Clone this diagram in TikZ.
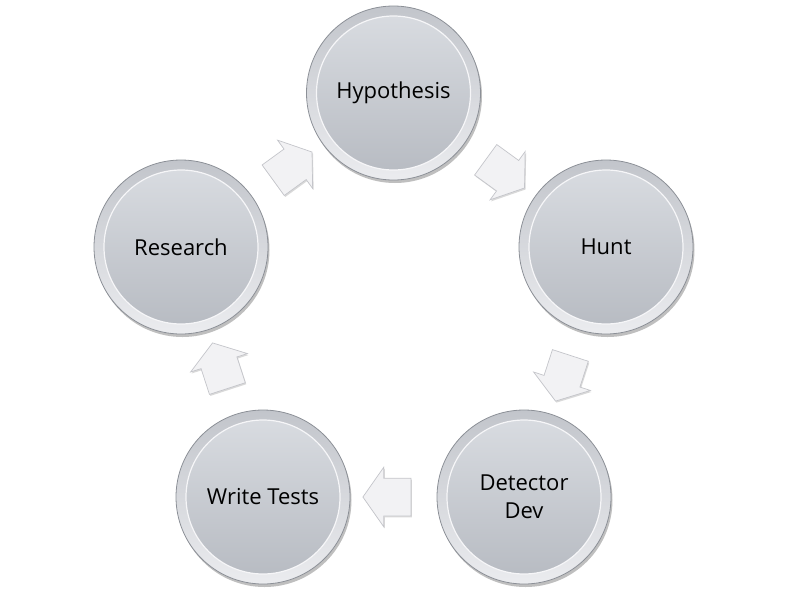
\documentclass[tikz,border=0pt]{standalone}
\usepackage{fontspec}
\setmainfont{Open Sans}
\usepackage{xcolor}
\usetikzlibrary{calc,shapes.arrows,shadows}
\definecolor{ringtop}{HTML}{C2C5CB}
\definecolor{ringbot}{HTML}{EBECEF}
\definecolor{ringedge}{HTML}{8C9097}
\definecolor{disctop}{HTML}{DADDE2}
\definecolor{discbot}{HTML}{B6BAC1}
\definecolor{arrowfill}{HTML}{F2F2F4}
\definecolor{arrowedge}{HTML}{C4C5CA}
\tikzset{
  ball/.style={circle, minimum size=174pt, inner sep=0pt, draw=ringedge, line width=0.8pt,
    top color=ringtop, bottom color=ringbot,
    drop shadow={shadow xshift=1.5pt, shadow yshift=-3pt, opacity=0.25, fill=black},
    path picture={\shade[top color=disctop, bottom color=discbot, draw=white!75!disctop, line width=1.2pt]
      (path picture bounding box.center) circle (77pt);},
    font=\fontsize{22}{28}\selectfont, text=black, align=center},
  flow/.style={single arrow, draw=arrowedge, fill=arrowfill, line width=0.7pt,
    minimum height=48pt, inner xsep=0pt, inner ysep=18.5pt,
    single arrow head extend=11pt, single arrow tip angle=110,
    drop shadow={shadow xshift=1pt, shadow yshift=-1.5pt, opacity=0.15, fill=black}}
}
\begin{document}
\begin{tikzpicture}[x=1pt, y=-1pt]
  \useasboundingbox (0,0) rectangle (788,598);
  \node[ball] (hyp) at (393.5,93) {Hypothesis};
  \node[ball] (hunt) at (606,247) {Hunt};
  \node[ball] (det) at (524,497) {Detector\\Dev};
  \node[ball] (tests) at (263,497) {Write Tests};
  \node[ball] (res) at (181,247) {Research};
  % arrows between the steps
  \node[flow, rotate=-36] (a1) at ($(hyp)!0.5!(hunt)$) {};
  \node[flow, rotate=-108] (a2) at ($(hunt)!0.5!(det)$) {};
  \node[flow, rotate=180] (a3) at ($(det)!0.5!(tests)$) {};
  \node[flow, rotate=108] (a4) at ($(tests)!0.5!(res)$) {};
  \node[flow, rotate=36] (a5) at ($(res)!0.5!(hyp)$) {};
\end{tikzpicture}
\end{document}
